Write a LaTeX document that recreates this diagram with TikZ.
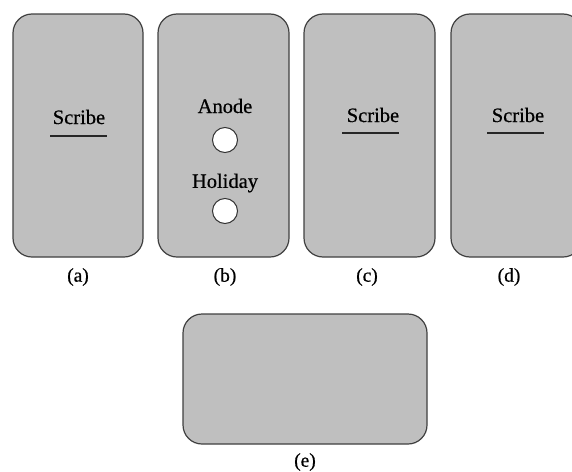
\documentclass[tikz,border=0pt]{standalone}
\usepackage{fontspec}
\setmainfont{Liberation Serif}
\newfontfamily\thk[FakeBold=0.6]{Liberation Serif}
\tikzset{
  card/.style={draw=black!75, line width=1.2pt, fill=black!25, rounded corners=19pt, inner sep=0pt},
  lbl/.style={font=\thk\fontsize{19.5}{21}\selectfont, inner sep=0pt},
  word/.style={font=\thk\fontsize{20.5}{22}\selectfont, inner sep=0pt},
  hole/.style={circle, draw=black!80, line width=1pt, fill=white, minimum size=25pt, inner sep=0pt},
  uline/.style={draw=black!85, line width=2pt}
}
\begin{document}
\begin{tikzpicture}[x=1pt,y=-1pt]
\useasboundingbox (0,0) rectangle (572,471);
\clip (0,0) rectangle (572,471);
\node[card, minimum width=130pt, minimum height=243pt] (a) at (78,135.5) {};
\node[card, minimum width=131pt, minimum height=243pt] (b) at (223.5,135.5) {};
\node[card, minimum width=131pt, minimum height=243pt] (c) at (369.5,135.5) {};
\node[card, minimum width=131pt, minimum height=243pt] (d) at (516.5,135.5) {};
\node[card, minimum width=244pt, minimum height=130pt] (e) at (305,379) {};
% labels
\node[lbl] (la) at (78,277) {(a)};
\node[lbl] (lb) at (225,277) {(b)};
\node[lbl] (lc) at (367,277) {(c)};
\node[lbl] (ld) at (509,277) {(d)};
\node[lbl] (le) at (305,462) {(e)};
% scribe texts
\node[word] (sa) at (79,117) {Scribe};
\coordinate (sa1) at (50,136); \coordinate (sa2) at (107,136);
\draw[uline] (sa1) -- (sa2);
\node[word] (sc) at (373,115) {Scribe};
\coordinate (sc1) at (342,133); \coordinate (sc2) at (399,133);
\draw[uline] (sc1) -- (sc2);
\node[word] (sd) at (518,115) {Scribe};
\coordinate (sd1) at (487,133); \coordinate (sd2) at (544,133);
\draw[uline] (sd1) -- (sd2);
% b contents
\node[word] (an) at (225,106) {Anode};
\node[hole] (h1) at (225,140) {};
\node[word] (ho) at (225,183) {Holiday};
\node[hole] (h2) at (225,211) {};
\end{tikzpicture}
\end{document}
